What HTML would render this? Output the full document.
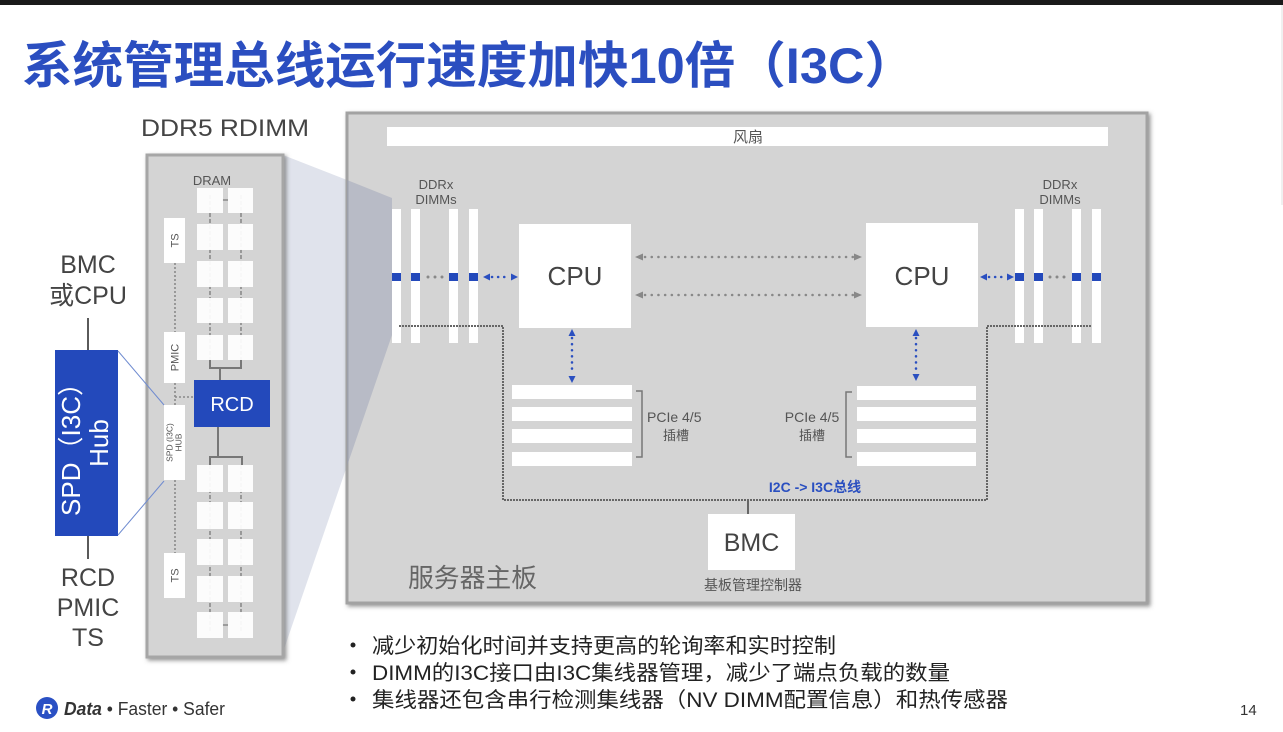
<!DOCTYPE html>
<html><head><meta charset="utf-8">
<style>
html,body{margin:0;padding:0;background:#fff;}
body{width:1283px;height:732px;overflow:hidden;}
svg{display:block;font-family:"Liberation Sans","Noto Sans CJK SC",sans-serif;}
</style></head>
<body>
<svg width="1283" height="732" viewBox="0 0 1283 732" xmlns="http://www.w3.org/2000/svg">
<defs>
<filter id="sh" x="-5%" y="-5%" width="112%" height="112%">
<feDropShadow dx="2" dy="2" stdDeviation="2" flood-color="#666" flood-opacity="0.7"/>
</filter>
</defs>
<rect x="0" y="0" width="1283" height="732" fill="#fff"/>
<rect x="0" y="0" width="1283" height="5" fill="#1a1a1a"/>
<line x1="1282" y1="5" x2="1282" y2="205" stroke="#e2e2e2" stroke-width="1"/>

<!-- Title -->
<text x="22" y="83" font-size="50" font-weight="700" fill="#2b4ec0" textLength="893" lengthAdjust="spacingAndGlyphs">系统管理总线运行速度加快10倍（I3C）</text>

<!-- DDR5 RDIMM -->
<text x="141" y="136" font-size="24" fill="#444" textLength="168" lengthAdjust="spacingAndGlyphs">DDR5 RDIMM</text>

<!-- trapezoid gap part -->
<polygon points="283,155 347,180 347,466 283,652" fill="#e0e3ec"/>

<!-- DIMM panel -->
<rect x="147" y="155" width="136" height="502" fill="#d4d4d4" stroke="#a6a6a6" stroke-width="3" filter="url(#sh)"/>
<text x="212" y="185" font-size="13" fill="#555" text-anchor="middle">DRAM</text>

<!-- column dashed lines -->
<line x1="210" y1="195" x2="210" y2="362" stroke="#8a8a8a" stroke-width="1.6" stroke-dasharray="4 2"/>
<line x1="241" y1="195" x2="241" y2="362" stroke="#8a8a8a" stroke-width="1.6" stroke-dasharray="4 2"/>
<line x1="210" y1="465" x2="210" y2="632" stroke="#8a8a8a" stroke-width="1.6" stroke-dasharray="4 2"/>
<line x1="241" y1="465" x2="241" y2="632" stroke="#8a8a8a" stroke-width="1.6" stroke-dasharray="4 2"/>
<line x1="222" y1="200" x2="228" y2="200" stroke="#8a8a8a" stroke-width="1.5"/>
<line x1="222" y1="625" x2="228" y2="625" stroke="#8a8a8a" stroke-width="1.5"/>

<!-- chips -->
<g fill="#fff" fill-opacity="0.93">
<rect x="197" y="188" width="26" height="25"/><rect x="228" y="188" width="25" height="25"/>
<rect x="197" y="224" width="26" height="26"/><rect x="228" y="224" width="25" height="26"/>
<rect x="197" y="261" width="26" height="26"/><rect x="228" y="261" width="25" height="26"/>
<rect x="197" y="298" width="26" height="25"/><rect x="228" y="298" width="25" height="25"/>
<rect x="197" y="335" width="26" height="25"/><rect x="228" y="335" width="25" height="25"/>
<rect x="197" y="465" width="26" height="27"/><rect x="228" y="465" width="25" height="27"/>
<rect x="197" y="502" width="26" height="27"/><rect x="228" y="502" width="25" height="27"/>
<rect x="197" y="539" width="26" height="26"/><rect x="228" y="539" width="25" height="26"/>
<rect x="197" y="576" width="26" height="26"/><rect x="228" y="576" width="25" height="26"/>
<rect x="197" y="612" width="26" height="26"/><rect x="228" y="612" width="25" height="26"/>
</g>

<!-- brackets to RCD -->
<g stroke="#777" stroke-width="2" fill="none">
<polyline points="210,360 210,368 241,368 241,360"/>
<line x1="220" y1="368" x2="220" y2="380"/>
<polyline points="210,465 210,457 242,457 242,465"/>
<line x1="218" y1="427" x2="218" y2="457"/>
</g>

<!-- left small boxes dotted -->
<g stroke="#8a8a8a" stroke-width="1.6" stroke-dasharray="2 2" fill="none">
<line x1="175" y1="263" x2="175" y2="332"/>
<line x1="175" y1="383" x2="175" y2="405"/>
<line x1="175" y1="397" x2="194" y2="397"/>
<line x1="175" y1="480" x2="175" y2="553"/>
</g>
<rect x="164" y="218" width="21" height="45" fill="#fff"/>
<rect x="164" y="332" width="21" height="51" fill="#fff"/>
<rect x="164" y="405" width="21" height="75" fill="#fff"/>
<rect x="164" y="553" width="21" height="45" fill="#fff"/>
<text transform="translate(178.5,240.5) rotate(-90)" font-size="11" fill="#555" text-anchor="middle">TS</text>
<text transform="translate(178.5,357.5) rotate(-90)" font-size="11" fill="#555" text-anchor="middle">PMIC</text>
<text transform="translate(172.5,442.5) rotate(-90)" font-size="8.5" fill="#555" text-anchor="middle">SPD (I3C)</text>
<text transform="translate(181.5,442.5) rotate(-90)" font-size="8.5" fill="#555" text-anchor="middle">HUB</text>
<text transform="translate(178.5,575.5) rotate(-90)" font-size="11" fill="#555" text-anchor="middle">TS</text>

<!-- RCD -->
<rect x="194" y="380" width="76" height="47" fill="#2349bb"/>
<text x="232" y="411" font-size="20" fill="#fff" text-anchor="middle">RCD</text>

<!-- left hub -->
<text x="88" y="273" font-size="25" fill="#444" text-anchor="middle">BMC</text>
<text x="88" y="304" font-size="25" fill="#444" text-anchor="middle">或CPU</text>
<line x1="88" y1="318" x2="88" y2="351" stroke="#222" stroke-width="1.5"/>
<line x1="88" y1="535" x2="88" y2="559" stroke="#222" stroke-width="1.5"/>
<rect x="55" y="350" width="63" height="186" fill="#2349bb"/>
<text transform="translate(80,443) rotate(-90)" font-size="26" fill="#fff" text-anchor="middle">SPD（I3C）</text>
<text transform="translate(108,443) rotate(-90)" font-size="26" fill="#fff" text-anchor="middle">Hub</text>
<line x1="118" y1="351" x2="164" y2="405" stroke="#6f8bd0" stroke-width="1"/>
<line x1="118" y1="535" x2="164" y2="481" stroke="#6f8bd0" stroke-width="1"/>
<text x="88" y="586" font-size="25" fill="#444" text-anchor="middle">RCD</text>
<text x="88" y="616" font-size="25" fill="#444" text-anchor="middle">PMIC</text>
<text x="88" y="646" font-size="25" fill="#444" text-anchor="middle">TS</text>

<!-- Board -->
<rect x="347" y="113" width="800" height="490" fill="#d4d4d4" stroke="#a2a2a2" stroke-width="3" filter="url(#sh)"/>
<rect x="387" y="127" width="721" height="19" fill="#fff"/>
<text x="748" y="142" font-size="15" fill="#555" text-anchor="middle">风扇</text>

<!-- trapezoid overlay on board -->
<polygon points="347,180 392,198 392,335 347,466" fill="rgb(150,158,182)" fill-opacity="0.45"/>

<!-- left DIMMs -->
<text x="436" y="189" font-size="13" fill="#555" text-anchor="middle">DDRx</text>
<text x="436" y="204" font-size="13" fill="#555" text-anchor="middle">DIMMs</text>
<g fill="#fff">
<rect x="392" y="209" width="9" height="134"/><rect x="411" y="209" width="9" height="134"/>
<rect x="449" y="209" width="9" height="134"/><rect x="469" y="209" width="9" height="134"/>
<rect x="1015" y="209" width="9" height="134"/><rect x="1034" y="209" width="9" height="134"/>
<rect x="1072" y="209" width="9" height="134"/><rect x="1092" y="209" width="9" height="134"/>
</g>
<g fill="#2349bb">
<rect x="392" y="273" width="9" height="8"/><rect x="411" y="273" width="9" height="8"/>
<rect x="449" y="273" width="9" height="8"/><rect x="469" y="273" width="9" height="8"/>
<rect x="1015" y="273" width="9" height="8"/><rect x="1034" y="273" width="9" height="8"/>
<rect x="1072" y="273" width="9" height="8"/><rect x="1092" y="273" width="9" height="8"/>
</g>
<g fill="#888">
<circle cx="428" cy="277" r="1.5"/><circle cx="435" cy="277" r="1.5"/><circle cx="442" cy="277" r="1.5"/>
<circle cx="1050" cy="277" r="1.5"/><circle cx="1057" cy="277" r="1.5"/><circle cx="1064" cy="277" r="1.5"/>
</g>
<text x="1060" y="189" font-size="13" fill="#555" text-anchor="middle">DDRx</text>
<text x="1060" y="204" font-size="13" fill="#555" text-anchor="middle">DIMMs</text>

<!-- CPUs -->
<rect x="519" y="224" width="112" height="104" fill="#fff"/>
<text x="575" y="285" font-size="26" fill="#444" text-anchor="middle">CPU</text>
<rect x="866" y="223" width="112" height="104" fill="#fff"/>
<text x="922" y="285" font-size="26" fill="#444" text-anchor="middle">CPU</text>

<!-- blue arrows -->
<g stroke="#2a4fc0" stroke-width="2.5" stroke-linecap="round" stroke-dasharray="0.1 6" fill="none">
<line x1="492" y1="277" x2="510" y2="277"/>
<line x1="989" y1="277" x2="1006" y2="277"/>
<line x1="572" y1="338" x2="572" y2="374"/>
<line x1="916" y1="338" x2="916" y2="372"/>
</g>
<g fill="#2a4fc0">
<polygon points="483,277 490,273.5 490,280.5"/>
<polygon points="518,277 511,273.5 511,280.5"/>
<polygon points="980,277 987,273.5 987,280.5"/>
<polygon points="1014,277 1007,273.5 1007,280.5"/>
<polygon points="572,329 568.5,336 575.5,336"/>
<polygon points="572,383 568.5,376 575.5,376"/>
<polygon points="916,329 912.5,336 919.5,336"/>
<polygon points="916,381 912.5,374 919.5,374"/>
</g>

<!-- gray CPU-CPU arrows -->
<g stroke="#888" stroke-width="2.5" stroke-linecap="round" stroke-dasharray="0.1 6.6" fill="none">
<line x1="645" y1="257" x2="853" y2="257"/>
<line x1="645" y1="295" x2="853" y2="295"/>
</g>
<g fill="#888">
<polygon points="635,257 643,253.5 643,260.5"/>
<polygon points="862,257 854,253.5 854,260.5"/>
<polygon points="635,295 643,291.5 643,298.5"/>
<polygon points="862,295 854,291.5 854,298.5"/>
</g>

<!-- PCIe slots -->
<g fill="#fff">
<rect x="512" y="385" width="120" height="14"/><rect x="512" y="407" width="120" height="14"/>
<rect x="512" y="429" width="120" height="14"/><rect x="512" y="452" width="120" height="14"/>
<rect x="857" y="386" width="119" height="14"/><rect x="857" y="407" width="119" height="14"/>
<rect x="857" y="429" width="119" height="14"/><rect x="857" y="452" width="119" height="14"/>
</g>
<g stroke="#777" stroke-width="1.5" fill="none">
<polyline points="636,391 642,391 642,457 636,457"/>
<polyline points="852,392 846,392 846,457 852,457"/>
</g>
<text x="647" y="422" font-size="14" fill="#555">PCIe 4/5</text>
<text x="676" y="440" font-size="13" fill="#555" text-anchor="middle">插槽</text>
<text x="812" y="422" font-size="14" fill="#555" text-anchor="middle">PCIe 4/5</text>
<text x="812" y="440" font-size="13" fill="#555" text-anchor="middle">插槽</text>

<!-- bus -->
<polyline points="399,326 503,326 503,500 987,500 987,326 1091,326" fill="none" stroke="#666" stroke-width="2" stroke-dasharray="2 1"/>
<text x="815" y="492" font-size="14" font-weight="700" fill="#2a4fc0" text-anchor="middle">I2C -&gt; I3C总线</text>
<line x1="748" y1="500" x2="748" y2="514" stroke="#666" stroke-width="2"/>

<!-- BMC -->
<rect x="708" y="514" width="87" height="56" fill="#fff"/>
<text x="751.5" y="551" font-size="25" fill="#444" text-anchor="middle">BMC</text>
<text x="753" y="590" font-size="14" fill="#555" text-anchor="middle">基板管理控制器</text>
<text x="408" y="587" font-size="26" fill="#666" textLength="129" lengthAdjust="spacingAndGlyphs">服务器主板</text>

<!-- bullets -->
<g fill="#222">
<circle cx="353" cy="645" r="2.5"/>
<circle cx="353" cy="672" r="2.5"/>
<circle cx="353" cy="699" r="2.5"/>
</g>
<text x="372" y="653" font-size="21" fill="#222" textLength="464" lengthAdjust="spacingAndGlyphs">减少初始化时间并支持更高的轮询率和实时控制</text>
<text x="372" y="680" font-size="21" fill="#222" textLength="578" lengthAdjust="spacingAndGlyphs">DIMM的I3C接口由I3C集线器管理，减少了端点负载的数量</text>
<text x="372" y="707" font-size="21" fill="#222" textLength="636" lengthAdjust="spacingAndGlyphs">集线器还包含串行检测集线器（NV DIMM配置信息）和热传感器</text>

<!-- logo -->
<circle cx="47" cy="708" r="11" fill="#2a50c4"/>
<text x="47" y="714" font-size="15" font-weight="700" font-style="italic" fill="#fff" text-anchor="middle">R</text>
<text x="64" y="715" font-size="18" fill="#333" textLength="161" lengthAdjust="spacingAndGlyphs"><tspan font-weight="700" font-style="italic">Data</tspan><tspan> • Faster • Safer</tspan></text>

<text x="1240" y="715" font-size="15" fill="#333">14</text>
</svg>
</body></html>
